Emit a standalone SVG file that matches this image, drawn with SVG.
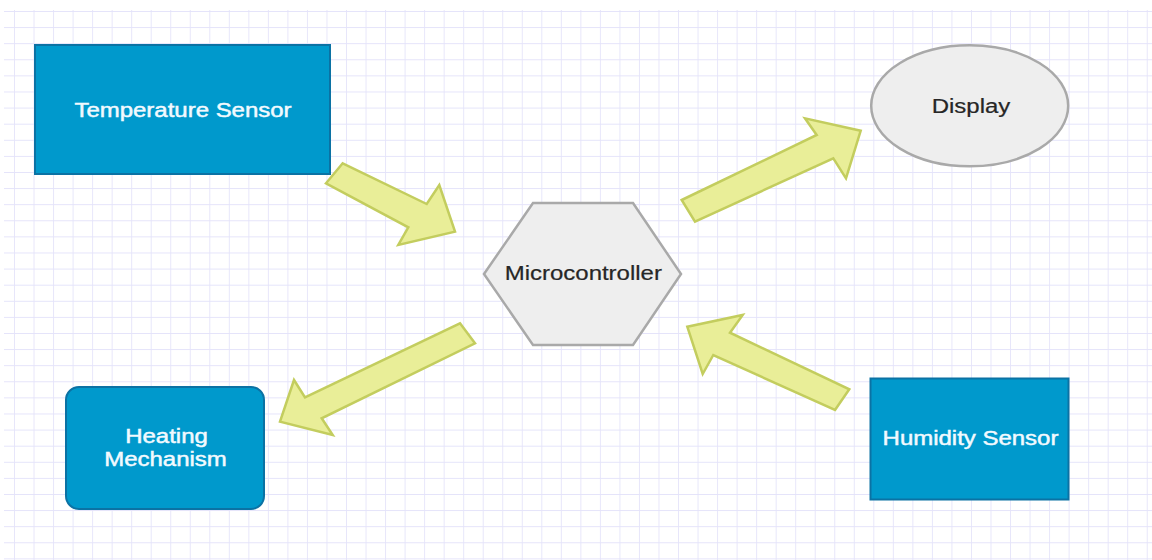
<svg xmlns="http://www.w3.org/2000/svg" width="1152" height="560" viewBox="0 0 1152 560">
  <defs>
    <!-- light graph-paper background -->
    <pattern id="grid" patternUnits="userSpaceOnUse" x="14" y="11" width="19.53" height="16.1">
      <path d="M0 0 V16.1 M0 0 H19.53" fill="none" stroke="#e4e3fa" stroke-width="1.7"/>
    </pattern>
    <style>
      .box { fill: #0099cc; stroke: #0b72a4; stroke-width: 2; }
      .grey { fill: #eeeeee; stroke: #a9a9a9; stroke-width: 2.5; }
      .arrow { fill: #e9ee98; stroke: #c3cd5e; stroke-width: 2.5; stroke-linejoin: miter; }
      .lbl { font-family: "Liberation Sans", Arial, sans-serif; font-size: 19.5px; text-anchor: middle; }
      .light { fill: #f2faff; stroke: #f2faff; stroke-width: 0.45; }
      .dark { fill: #262626; stroke: #262626; stroke-width: 0.2; }
    </style>
  </defs>

  <rect width="1152" height="560" fill="#ffffff"/>
  <rect x="4" y="10" width="1148" height="550" fill="url(#grid)"/>

  <!-- block arrows between components -->
  <g id="connectors">
    <polygon class="arrow" points="342.7,163.3 426.7,204 439.3,185 455,231.7 398.3,245 408.3,227.3 326,183.3"/>
    <polygon class="arrow" points="681.7,200 816.7,135 805,118.3 860.7,130.7 846,178.3 833.3,158.3 695,221.7"/>
    <polygon class="arrow" points="460,323.3 475,343.3 321.7,418.3 332.7,435 280,421.7 294,380 305,397.3"/>
    <polygon class="arrow" points="835,410 849.3,389.3 730,332.7 742.7,315 687.3,326.7 702.7,374 713.3,355"/>
  </g>

  <g id="temperature-sensor">
    <rect class="box" x="35" y="45" width="295" height="129"/>
    <text class="lbl light" transform="translate(183,116.5) scale(1.23,1)">Temperature Sensor</text>
  </g>

  <g id="microcontroller">
    <polygon class="grey" points="484,274 533,203 633,203 681,274 633,345 533,345"/>
    <text class="lbl dark" transform="translate(583.3,280) scale(1.23,1)">Microcontroller</text>
  </g>

  <g id="display">
    <ellipse class="grey" cx="969.7" cy="105.8" rx="98.5" ry="60.5"/>
    <text class="lbl dark" transform="translate(971,112.7) scale(1.23,1)">Display</text>
  </g>

  <g id="heating-mechanism">
    <rect class="box" x="66" y="387" width="198" height="122" rx="13" ry="13"/>
    <text class="lbl light" transform="translate(166.5,443.3) scale(1.23,1)">Heating</text>
    <text class="lbl light" transform="translate(165.5,466) scale(1.23,1)">Mechanism</text>
  </g>

  <g id="humidity-sensor">
    <rect class="box" x="870.5" y="378.5" width="198" height="121"/>
    <text class="lbl light" transform="translate(970.5,445) scale(1.23,1)">Humidity Sensor</text>
  </g>
</svg>
